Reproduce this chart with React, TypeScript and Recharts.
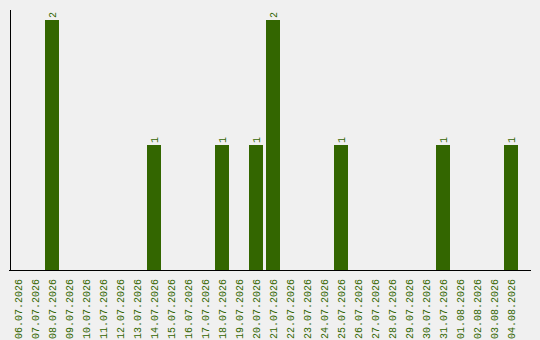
import { BarChart, Bar, XAxis, YAxis, LabelList } from "recharts";

const days = [
  "06.07.2026", "07.07.2026", "08.07.2026", "09.07.2026", "10.07.2026",
  "11.07.2026", "12.07.2026", "13.07.2026", "14.07.2026", "15.07.2026",
  "16.07.2026", "17.07.2026", "18.07.2026", "19.07.2026", "20.07.2026",
  "21.07.2026", "22.07.2026", "23.07.2026", "24.07.2026", "25.07.2026",
  "26.07.2026", "27.07.2026", "28.07.2026", "29.07.2026", "30.07.2026",
  "31.07.2026", "01.08.2026", "02.08.2026", "03.08.2026", "04.08.2026",
];

const counts = [
  0, 0, 2, 0, 0, 0, 0, 0, 1, 0,
  0, 0, 1, 0, 1, 2, 0, 0, 0, 1,
  0, 0, 0, 0, 0, 1, 0, 0, 0, 1,
];

const GREEN = "#336600";
const FONT = "'Liberation Mono', monospace";

const data = days.map((day, i) => ({ day, count: counts[i] }));

function DayTick({ x, y, payload }: any) {
  return (
    <g transform={`translate(${x},${y})`}>
      <text
        transform="rotate(-90)"
        x={-6}
        y={4}
        textAnchor="end"
        fill={GREEN}
        fontSize={10}
        fontFamily={FONT}
      >
        {payload.value}
      </text>
    </g>
  );
}

function CountLabel({ x, y, width, value }: any) {
  if (!value) return null;
  const cx = x + width / 2;
  return (
    <g transform={`translate(${cx},${y - 2})`}>
      <text
        transform="rotate(-90)"
        x={0}
        y={4}
        textAnchor="start"
        fill={GREEN}
        fontSize={10}
        fontFamily={FONT}
      >
        {value}
      </text>
    </g>
  );
}

export default function App() {
  return (
    <div style={{ position: "fixed", left: 0, top: 0, width: 540, height: 340, background: "#f0f0f0" }}>
      <BarChart
        width={540}
        height={340}
        data={data}
        margin={{ top: 10, right: 9, bottom: 0, left: 8 }}
        barSize={14}
      >
        {/* full-width baseline; the day slots below leave a gap on the right */}
        <XAxis
          xAxisId="base"
          dataKey="day"
          height={1}
          tick={false}
          tickLine={false}
          axisLine={{ stroke: "#000", strokeWidth: 1, transform: "translate(0,0.5)" }}
        />
        <XAxis
          xAxisId="days"
          dataKey="day"
          interval={0}
          height={69}
          padding={{ left: 0, right: 12 }}
          axisLine={false}
          tickLine={false}
          tickSize={0}
          tick={<DayTick />}
        />
        <YAxis
          width={1}
          domain={[0, 2.08]}
          tick={false}
          tickLine={false}
          axisLine={{ stroke: "#000", strokeWidth: 1, transform: "translate(1.5,0)" }}
        />
        <Bar dataKey="count" xAxisId="days" fill={GREEN} isAnimationActive={false}>
          <LabelList dataKey="count" content={<CountLabel />} />
        </Bar>
      </BarChart>
    </div>
  );
}
